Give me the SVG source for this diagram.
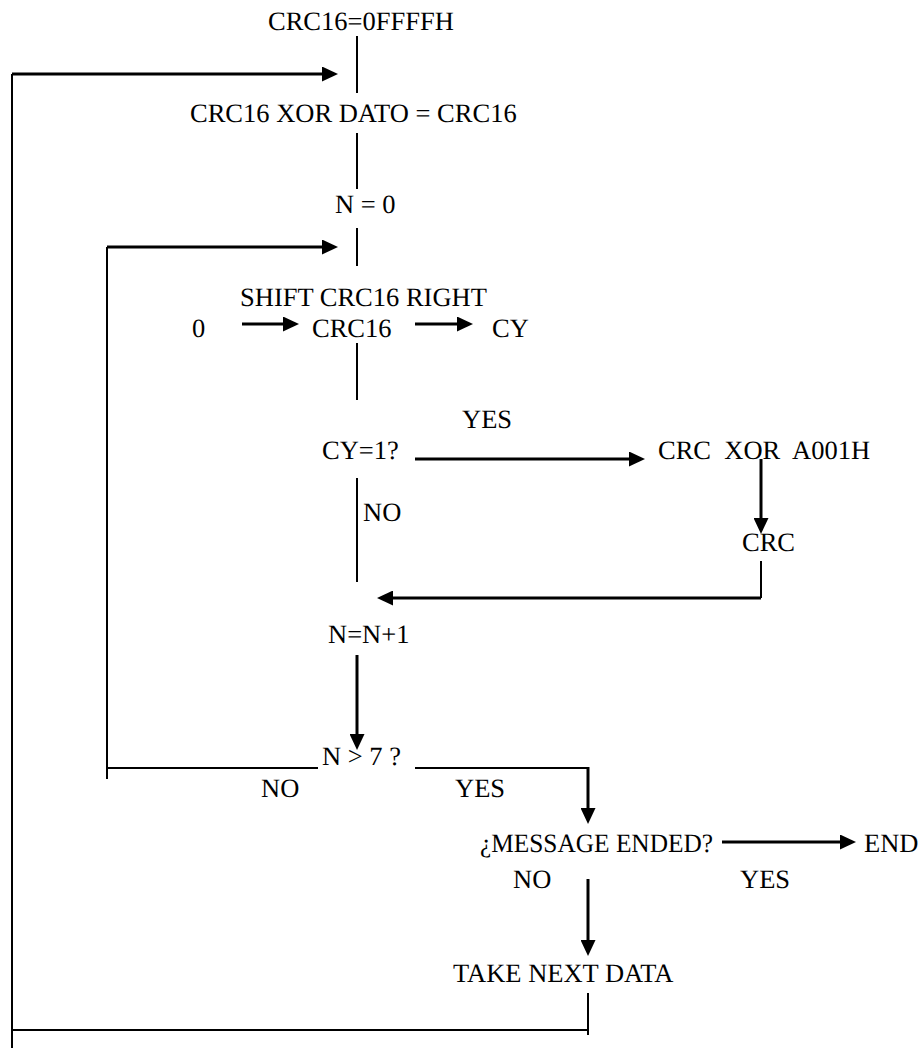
<svg xmlns="http://www.w3.org/2000/svg" width="919" height="1048" viewBox="0 0 919 1048">
<style>
text{font-family:"Liberation Serif","Times New Roman",serif;font-size:26.5px;fill:#000;white-space:pre;text-rendering:geometricPrecision}
.ln{fill:none;stroke:#000;stroke-width:2}
.ar{fill:none;stroke:#000;stroke-width:3;marker-end:url(#ah)}
</style>
<defs>
<marker id="ah" markerUnits="userSpaceOnUse" markerWidth="16" markerHeight="15" refX="6" refY="7.5" orient="auto">
<path d="M0,0 L16,7.5 L0,15 Z" fill="#000"/>
</marker>
</defs>
<rect width="919" height="1048" fill="#fff"/>
<g id="connectors">
<path class="ln" d="M357,36 V93"/>
<path class="ln" d="M357,133 V189"/>
<path class="ln" d="M357,228 V266"/>
<path class="ln" d="M357,343 V400"/>
<path class="ln" d="M357,478 V582"/>
<path class="ln" d="M588,993 V1035"/>
<path class="ln" d="M588,1030 H12"/>
<path class="ln" d="M12,1048 V74"/>
<path class="ar" d="M12,74 H328"/>
<path class="ln" d="M318,768 H107"/>
<path class="ln" d="M107,779 V247"/>
<path class="ar" d="M107,247 H328"/>
<path class="ar" d="M242,324 H289"/>
<path class="ar" d="M415,324 H463"/>
<path class="ar" d="M415,459 H635"/>
<path class="ar" d="M761,459 V524"/>
<path class="ln" d="M761,561 V598"/>
<path class="ar" d="M761,598 H387"/>
<path class="ar" d="M357,655 V740"/>
<path class="ln" d="M415,768 H588"/>
<path class="ar" d="M588,767 V814"/>
<path class="ar" d="M722,842 H846"/>
<path class="ar" d="M588,879 V946"/>
</g>
<g id="n-init"><text x="268" y="30">CRC16=0FFFFH</text></g>
<g id="n-xor"><text x="190" y="122">CRC16 XOR DATO = CRC16</text></g>
<g id="n-n0"><text x="335" y="213">N = 0</text></g>
<g id="n-shift">
<text x="240" y="306">SHIFT CRC16 RIGHT</text>
<text x="192" y="337">0</text>
<text x="312" y="337">CRC16</text>
<text x="492" y="337">CY</text>
</g>
<g id="n-cy"><text x="322" y="459">CY=1?</text></g>
<g id="l-yes1"><text x="462" y="428">YES</text></g>
<g id="l-no1"><text x="363" y="521">NO</text></g>
<g id="n-crcxor"><text x="658" y="459">CRC  XOR  A001H</text></g>
<g id="n-crc"><text x="742" y="551">CRC</text></g>
<g id="n-inc"><text x="328" y="643">N=N+1</text></g>
<g id="n-n7"><text x="322" y="765">N &gt; 7 ?</text></g>
<g id="l-no2"><text x="261" y="797">NO</text></g>
<g id="l-yes2"><text x="455" y="797">YES</text></g>
<g id="n-msg"><text x="480" y="852" textLength="233" lengthAdjust="spacingAndGlyphs">¿MESSAGE ENDED?</text></g>
<g id="n-end"><text x="864" y="852">END</text></g>
<g id="l-no3"><text x="513" y="888">NO</text></g>
<g id="l-yes3"><text x="740" y="888">YES</text></g>
<g id="n-next"><text x="453" y="982">TAKE NEXT DATA</text></g>
</svg>
